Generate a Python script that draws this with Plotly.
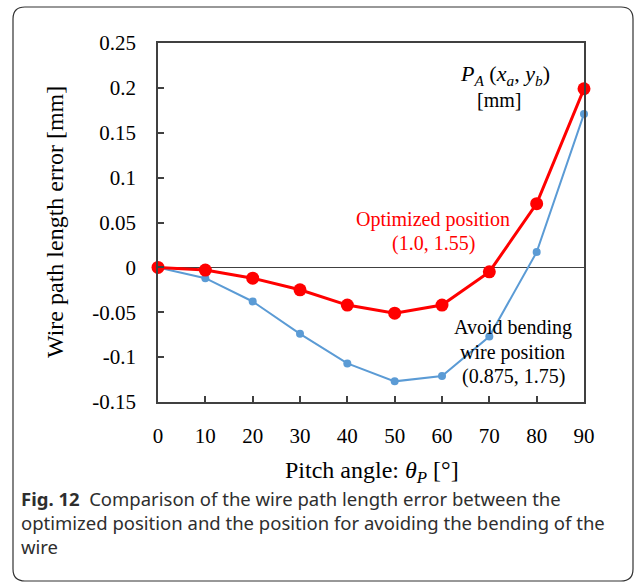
import plotly.graph_objects as go

# ---- data ----
pitch_angle = [0, 10, 20, 30, 40, 50, 60, 70, 80, 90]
optimized = [0.0, -0.003, -0.012, -0.025, -0.042, -0.051, -0.042, -0.005, 0.071, 0.199]
avoid_bending = [0.0, -0.012, -0.038, -0.074, -0.107, -0.127, -0.121, -0.077, 0.017, 0.171]
x_ticks = [0, 10, 20, 30, 40, 50, 60, 70, 80, 90]
y_ticks = [-0.15, -0.1, -0.05, 0, 0.05, 0.1, 0.15, 0.2, 0.25]
y_tick_text = ["-0.15", "-0.1", "-0.05", "0", "0.05", "0.1", "0.15", "0.2", "0.25"]
caption_lines = [
    "<b>Fig. 12</b>  Comparison of the wire path length error between the",
    "optimized position and the position for avoiding the bending of the",
    "wire",
]

W, H = 637, 585
L, R, T, B = 158, 584, 43, 402  # plot area in px

def px(x):
    return (x - L) / (R - L)

def py(y):
    return (B - y) / (B - T)

SERIF = "Liberation Serif, Times New Roman, serif"
SANS = "Noto Sans, Lato, sans-serif"

fig = go.Figure()
fig.add_trace(go.Scatter(
    x=pitch_angle, y=avoid_bending, mode="lines+markers",
    line=dict(color="#5B9BD5", width=2),
    marker=dict(color="#5B9BD5", size=8),
    showlegend=False, cliponaxis=False))
fig.add_trace(go.Scatter(
    x=pitch_angle, y=optimized, mode="lines+markers",
    line=dict(color="#FF0000", width=3),
    marker=dict(color="#FF0000", size=13),
    showlegend=False, cliponaxis=False))

fig.update_xaxes(
    range=[0, 90], tickvals=x_ticks, ticktext=[str(v) for v in x_ticks],
    ticks="inside", ticklen=6, tickcolor="#404040", tickwidth=1.5,
    showline=True, linecolor="#404040", linewidth=1.5, mirror=True,
    showgrid=False, zeroline=False,
    tickfont=dict(family=SERIF, size=21, color="black"),
    ticklabelstandoff=14)
fig.update_yaxes(
    range=[-0.15, 0.25], tickvals=y_ticks, ticktext=y_tick_text,
    ticks="inside", ticklen=6, tickcolor="#404040", tickwidth=1.5,
    showline=True, linecolor="#404040", linewidth=1.5, mirror=True,
    showgrid=False, zeroline=True, zerolinecolor="#404040", zerolinewidth=1.2,
    tickfont=dict(family=SERIF, size=21, color="black"),
    ticklabelstandoff=16)

# rounded border around whole figure
bl, br, bt, bb, rad = 13, 633, 7, 581, 12
path = (f"M {px(bl+rad)},{py(bt)} L {px(br-rad)},{py(bt)} Q {px(br)},{py(bt)} {px(br)},{py(bt+rad)} "
        f"L {px(br)},{py(bb-rad)} Q {px(br)},{py(bb)} {px(br-rad)},{py(bb)} "
        f"L {px(bl+rad)},{py(bb)} Q {px(bl)},{py(bb)} {px(bl)},{py(bb-rad)} "
        f"L {px(bl)},{py(bt+rad)} Q {px(bl)},{py(bt)} {px(bl+rad)},{py(bt)} Z")
fig.add_shape(type="path", path=path, xref="paper", yref="paper",
              line=dict(color="#333333", width=1.2), layer="above")

annots = [
    dict(text="Wire path length error [mm]", x=px(55), y=py(222), textangle=-90,
         font=dict(family=SERIF, size=24, color="black")),
    dict(text="Pitch angle: <i>θ</i><sub><i>P</i></sub> [°]", x=px(372), y=py(472),
         font=dict(family=SERIF, size=24, color="black")),
    dict(text="<i>P</i><sub><i>A</i></sub> (<i>x</i><sub><i>a</i></sub>, <i>y</i><sub><i>b</i></sub>)",
         x=px(505), y=py(75), font=dict(family=SERIF, size=22, color="black")),
    dict(text="[mm]", x=px(499), y=py(100),
         font=dict(family=SERIF, size=20, color="black")),
    dict(text="Optimized position", x=px(433), y=py(219),
         font=dict(family=SERIF, size=20, color="#FF0000")),
    dict(text="(1.0, 1.55)", x=px(433), y=py(243),
         font=dict(family=SERIF, size=20, color="#FF0000")),
    dict(text="Avoid bending", x=px(513), y=py(327),
         font=dict(family=SERIF, size=20, color="black")),
    dict(text="wire position", x=px(512), y=py(352),
         font=dict(family=SERIF, size=20, color="black")),
    dict(text="(0.875, 1.75)", x=px(513), y=py(376),
         font=dict(family=SERIF, size=20, color="black")),
    dict(text="<br>".join(caption_lines), x=px(19), y=py(522), xanchor="left", align="left",
         font=dict(family=SANS, size=18.5, color="#2e2e2e")),
]
for a in annots:
    a.setdefault("xanchor", "center")
    fig.add_annotation(xref="paper", yref="paper", yanchor="middle", showarrow=False, **a)

fig.update_layout(
    width=W, height=H,
    margin=dict(l=L, r=W - R, t=T, b=H - B),
    paper_bgcolor="white", plot_bgcolor="white")

fig.write_html("out.html")
